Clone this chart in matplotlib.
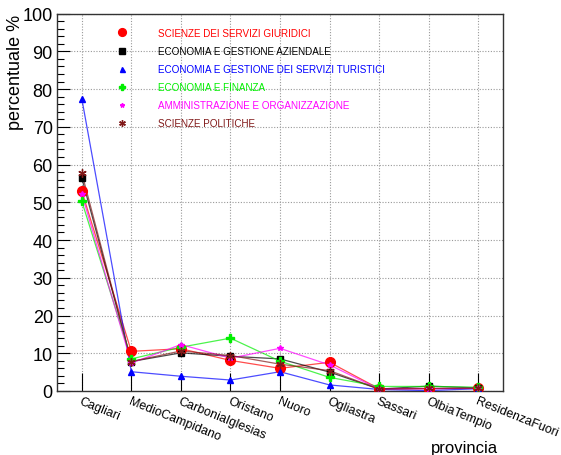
import matplotlib
matplotlib.use("Agg")
import matplotlib.pyplot as plt
from matplotlib.lines import Line2D
from matplotlib.ticker import MultipleLocator, FixedLocator

plt.rcParams['font.family'] = ['Liberation Sans', 'DejaVu Sans']

provinces = ["Cagliari", "MedioCampidano", "CarboniaIglesias", "Oristano", "Nuoro",
             "Ogliastra", "Sassari", "OlbiaTempio", "ResidenzaFuori"]

series_names = ["SCIENZE DEI SERVIZI GIURIDICI",
                "ECONOMIA E GESTIONE AZIENDALE",
                "ECONOMIA E GESTIONE DEI SERVIZI TURISTICI",
                "ECONOMIA E FINANZA",
                "AMMINISTRAZIONE E ORGANIZZAZIONE",
                "SCIENZE POLITICHE"]

giuridici  = [53.0, 10.5, 11.2, 8.1, 6.0, 7.6, 0.6, 0.6, 0.7]
aziendale  = [56.5, 7.8, 10.1, 9.2, 8.5, 5.0, 0.5, 1.3, 0.8]
turistici  = [77.5, 5.1, 3.9, 2.9, 5.1, 1.6, 0.4, 0.1, 0.6]
finanza    = [50.3, 8.5, 11.6, 14.0, 7.9, 3.6, 1.2, 1.2, 1.0]
amministr  = [52.2, 7.4, 12.3, 8.7, 11.3, 6.9, 0.5, 0.6, 0.7]
politiche  = [57.8, 7.8, 10.6, 9.4, 7.1, 5.4, 0.5, 0.7, 0.7]

values = [giuridici, aziendale, turistici, finanza, amministr, politiche]
colors = ["#ff0000", "#000000", "#0000ff", "#00ee00", "#ff00ff", "#801818"]
markers = ["o", "s", "^", "P", "*", (6, 2, 0)]
msizes = [7, 5, 4.5, 5.5, 4, 6]

fig = plt.figure(figsize=(5.61, 4.56), dpi=100)
ax = fig.add_axes([0.1016, 0.1404, 0.795, 0.8276])

xs = [i + 0.5 for i in range(len(provinces))]
for vals, c, m, ms in zip(values, colors, markers, msizes):
    ax.plot(xs, vals, color=c, lw=0.9, alpha=0.7, zorder=3)
    ax.plot(xs, vals, linestyle='none', marker=m, color=c, ms=ms,
            markeredgewidth=1.0, zorder=4)

ax.set_xlim(0, len(provinces))
ax.set_ylim(0, 100)

ax.yaxis.set_major_locator(MultipleLocator(10))
ax.yaxis.set_minor_locator(MultipleLocator(2))
ax.xaxis.set_major_locator(FixedLocator(xs))
ax.set_xticklabels(provinces, rotation=-22, ha='left', va='top',
                   rotation_mode='anchor', fontsize=9)
ax.tick_params(axis='y', which='major', direction='in', length=9, width=0.8,
               labelsize=13, pad=3)
ax.tick_params(axis='y', which='minor', direction='in', length=5, width=0.8)
ax.tick_params(axis='x', which='major', direction='in', length=13, width=0.8,
               pad=3)

ax.grid(True, which='major', linestyle=(0, (1, 1.5)), color='#999999', lw=0.8)
for s in ax.spines.values():
    s.set_linewidth(1.0)
    s.set_color('#333333')

ax.set_ylabel("percentuale %", fontsize=13, ha='right', va='center')
ax.yaxis.set_label_coords(-0.094, 1.0)
ax.set_xlabel("provincia", fontsize=12, ha='right', va='top')
ax.xaxis.set_label_coords(0.989, -0.131)

handles = [Line2D([], [], linestyle='none', marker=m, color=c, ms=ms * 0.8)
           for c, m, ms in zip(colors, markers, msizes)]
leg = ax.legend(handles, series_names, loc='upper left',
                bbox_to_anchor=(0.123, 0.962), frameon=False, fontsize=7.1,
                handlelength=2.0, handletextpad=2.7, labelspacing=0.82,
                borderpad=0, borderaxespad=0, labelcolor=colors)

fig.savefig("out.png", dpi=100)
